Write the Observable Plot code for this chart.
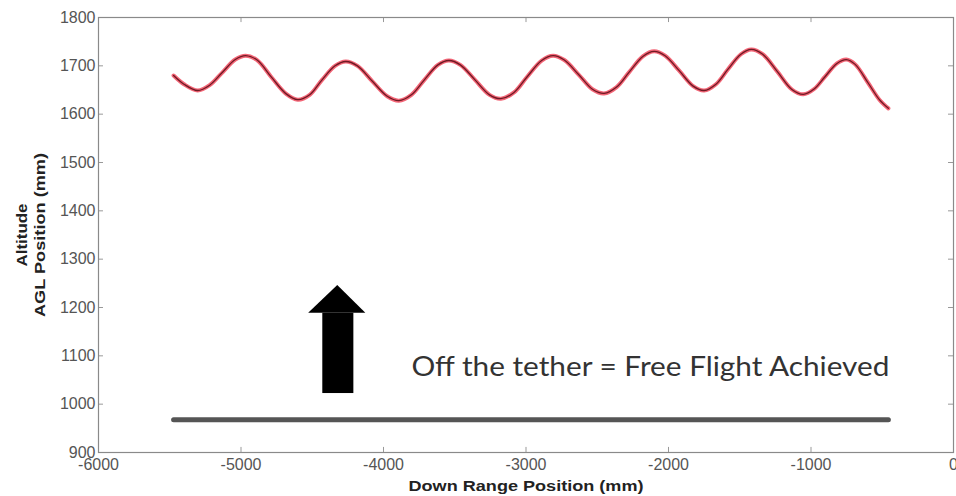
<!DOCTYPE html>
<html>
<head>
<meta charset="utf-8">
<script src="https://cdn.jsdelivr.net/npm/d3@7"></script>
<script src="https://cdn.jsdelivr.net/npm/@observablehq/plot@0.6"></script>
<style>
  html, body { margin: 0; padding: 0; background: #fff; }
  #chart svg { display: block; overflow: visible; }
</style>
</head>
<body>
<div id="chart"></div>
<script>
// Flight path (down range mm, altitude mm)
const flightX = [-5473, -5400, -5304, -5220, -5135, -5040, -4967, -4887, -4785, -4683, -4602, -4518, -4434, -4340, -4265, -4183, -4078, -3974, -3892, -3804, -3716, -3618, -3541, -3461, -3358, -3256, -3176, -3084, -2993, -2890, -2810, -2731, -2631, -2531, -2452, -2364, -2276, -2178, -2101, -2024, -1925, -1827, -1750, -1667, -1585, -1492, -1419, -1339, -1236, -1134, -1054, -978, -903, -818, -752, -690, -600, -520, -457];
const flightY = [1680, 1662, 1649, 1660, 1685, 1713, 1721, 1712, 1676, 1642, 1630, 1640, 1670, 1700, 1709, 1700, 1668, 1637, 1628, 1640, 1670, 1702, 1711, 1702, 1671, 1640, 1632, 1645, 1677, 1711, 1721, 1712, 1682, 1651, 1643, 1656, 1687, 1720, 1730, 1721, 1690, 1658, 1649, 1662, 1692, 1724, 1734, 1724, 1688, 1651, 1641, 1652, 1677, 1705, 1713, 1703, 1665, 1630, 1612];

// Tether line
const tetherX = [-5473, -457];
const tetherY = [968, 968];

// Arrow annotation (data units)
const arrowHeadX = [-4525, -4321, -4124];
const arrowHeadTop = [1188, 1245.5, 1188];
const arrowHeadBase = [1188, 1188, 1188];
const arrowShaft = {x1: -4426, x2: -4208, y1: 1022, y2: 1188};

const annotationText = "Off the tether = Free Flight Achieved";
const annotationPos = {x: -450, y: 1076};

const xLabel = "Down Range Position (mm)";
const yLabelLines = ["Altitude", "AGL Position (mm)"];

const xTicks = [-6000, -5000, -4000, -3000, -2000, -1000, 0];
const yTicks = [900, 1000, 1100, 1200, 1300, 1400, 1500, 1600, 1700, 1800];

const flight = flightX.map((x, i) => ({x, y: flightY[i]}));
const tether = tetherX.map((x, i) => ({x, y: tetherY[i]}));
const head = arrowHeadX.map((x, i) => ({x, y1: arrowHeadBase[i], y2: arrowHeadTop[i]}));

const xTickLen = 35;   // ~5px in data units
const yTickLen = 10.5;

const chart = Plot.plot({
  width: 956,
  height: 496,
  marginTop: 17,
  marginBottom: 44,
  marginLeft: 98,
  marginRight: 3,
  style: {fontFamily: "'Liberation Sans', Arial, sans-serif", color: "#555", background: "#fff"},
  x: {domain: [-6000, 0]},
  y: {domain: [900, 1800]},
  marks: [
    Plot.ruleY(yTicks, {y: d => d, x1: -6000, x2: -6000 + xTickLen, stroke: "#999"}),
    Plot.ruleY(yTicks, {y: d => d, x1: -xTickLen, x2: 0, stroke: "#999"}),
    Plot.ruleX(xTicks, {x: d => d, y1: 900, y2: 900 + yTickLen, stroke: "#999"}),
    Plot.ruleX(xTicks, {x: d => d, y1: 1800 - yTickLen, y2: 1800, stroke: "#999"}),
    Plot.frame({stroke: "#8a8a8a", strokeWidth: 1.2}),
    Plot.axisX({ticks: xTicks, tickSize: 0, tickPadding: 6, fontSize: 16, tickFormat: d => String(d), label: xLabel, labelAnchor: "center", labelOffset: 38, labelArrow: "none"}),
    Plot.axisY({ticks: yTicks, tickSize: 0, tickPadding: 3, fontSize: 16, tickFormat: d => String(d), label: null}),
    Plot.line(tether, {x: "x", y: "y", stroke: "#555", strokeWidth: 5}),
    Plot.line(flight, {x: "x", y: "y", stroke: "#f04a5e", strokeWidth: 4, curve: "catmull-rom", strokeOpacity: 0.85}),
    Plot.line(flight, {x: "x", y: "y", stroke: "#6e1a24", strokeWidth: 1.3, curve: "catmull-rom"}),
    Plot.areaY(head, {x: "x", y1: "y1", y2: "y2", fill: "#000"}),
    Plot.rect([arrowShaft], {x1: "x1", x2: "x2", y1: "y1", y2: "y2", fill: "#000"}),
    Plot.text([annotationPos], {x: "x", y: "y", text: () => annotationText, textAnchor: "end", fontSize: 27, fill: "#333", fontFamily: "Lato, 'Open Sans', sans-serif", className: "annot"}),
    Plot.text([yLabelLines.join("\n")], {frameAnchor: "left", textAnchor: "middle", rotate: -90, dx: -68.5, fontSize: 14, fontWeight: "bold", fill: "#222", lineHeight: 1.35, className: "ylab"})
  ]
});
document.getElementById("chart").appendChild(chart);
const svg = d3.select(chart);
// bold dark x-axis label, stretched like the reference
svg.selectAll("g[aria-label='x-axis label'] text")
  .attr("font-weight", "bold").attr("fill", "#222").attr("font-size", 14)
  .attr("textLength", 235).attr("lengthAdjust", "spacingAndGlyphs");
// y label line widths
const yLens = [63, 164];
svg.selectAll(".ylab text tspan").each(function(d, i) {
  d3.select(this).attr("textLength", yLens[i]).attr("lengthAdjust", "spacingAndGlyphs");
});
// fit annotation width
svg.selectAll(".annot text").attr("textLength", 478).attr("lengthAdjust", "spacingAndGlyphs");
</script>
</body>
</html>
